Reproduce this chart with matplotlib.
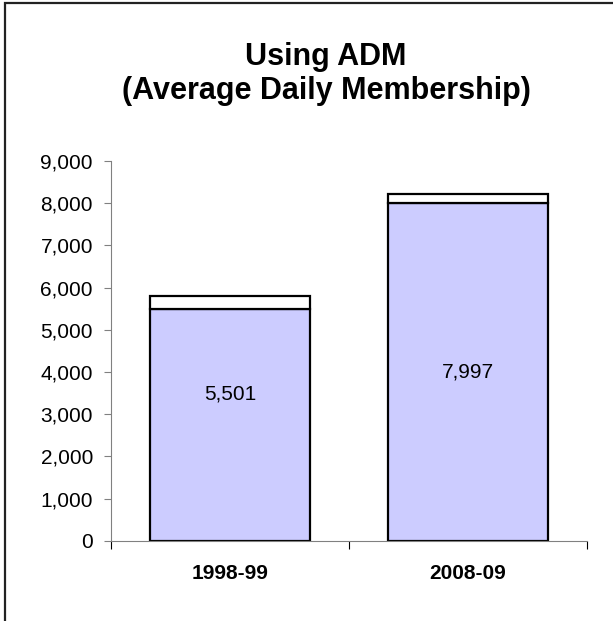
import matplotlib.pyplot as plt
from matplotlib.patches import Rectangle
from matplotlib.ticker import FuncFormatter

plt.rcParams['font.family'] = ['Liberation Sans', 'DejaVu Sans']

years = ['1998-99', '2008-09']
adm = [5501, 7997]
extra = [305, 215]

W, H = 613, 621
fig = plt.figure(figsize=(W / 100, H / 100), dpi=100)
fig.patches.append(Rectangle((5 / W, -0.1), 1.2, 1 - 3 / H + 0.1, transform=fig.transFigure,
                             fill=False, edgecolor='#222222', linewidth=1.6))

ax = fig.add_axes([111 / W, 80.3 / H, 476 / W, 379.7 / H])
x = range(len(years))
ax.bar(x, adm, width=0.672, color='#ccccff', edgecolor='black', linewidth=1.6)
ax.bar(x, extra, bottom=adm, width=0.672, color='white', edgecolor='black', linewidth=1.6)
# label heights as fraction of the bar
lab_frac = [0.633, 0.5]
for i, v in enumerate(adm):
    ax.text(i, v * lab_frac[i], f'{v:,}', ha='center', va='center', fontsize=15)

ax.set_xlim(-0.5, 1.5)
ax.set_ylim(0, 9000)
ax.set_yticks(range(0, 9001, 1000))
ax.yaxis.set_major_formatter(FuncFormatter(lambda v, p: f'{int(v):,}'))
ax.set_xticks([-0.5, 0.5, 1.5])
ax.set_xticklabels([])
ax.set_xticks(list(x), minor=True)
ax.set_xticklabels(years, minor=True, fontsize=15, fontweight='bold')
ax.tick_params(axis='x', which='minor', length=0, pad=17)
ax.tick_params(axis='x', which='major', length=6, color='black', direction='out')
ax.tick_params(axis='y', length=5, color='#808080', labelsize=15, pad=8)
for s in ['top', 'right']:
    ax.spines[s].set_visible(False)
ax.spines['left'].set_color('#808080')
ax.spines['bottom'].set_color('#808080')

fig.text(326 / W, 1 - 74 / H, 'Using ADM\n(Average Daily Membership)', ha='center', va='center',
         fontsize=22, fontweight='bold', linespacing=1.2)

fig.savefig('out.png', dpi=100)
